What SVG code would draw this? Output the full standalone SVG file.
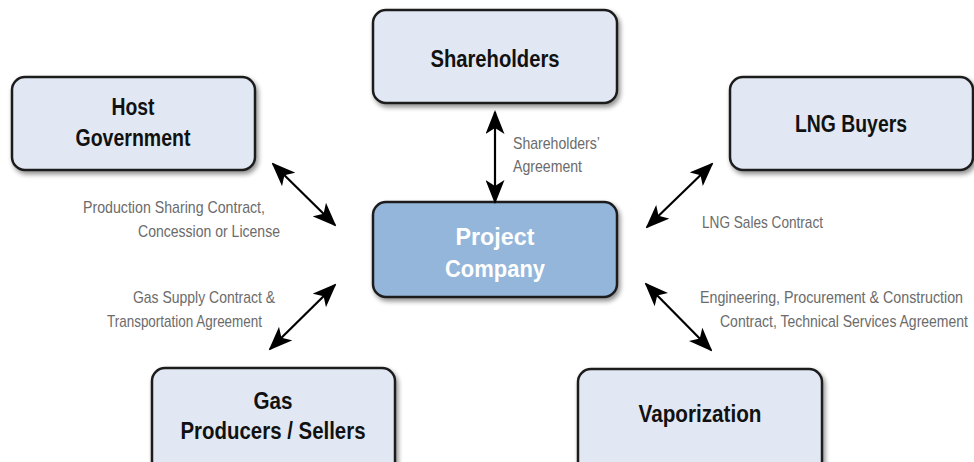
<svg xmlns="http://www.w3.org/2000/svg" width="974" height="462" viewBox="0 0 974 462">
<defs>
<style>
.box{fill:#e1e8f3;stroke:#1e1e1e;stroke-width:2.5}
.pc{fill:#94b6da;stroke:#1e1e1e;stroke-width:2.5}
.nl{font-family:"Liberation Sans",Arial,sans-serif;font-weight:bold;font-size:23px;fill:#111;text-anchor:middle}
.pl{font-family:"Liberation Sans",Arial,sans-serif;font-weight:bold;font-size:23px;fill:#fff;text-anchor:middle}
.lb{font-family:"Liberation Sans",Arial,sans-serif;font-size:17px;fill:#6b6b6b}
.ar{stroke:#000;stroke-width:2.2;fill:none;marker-start:url(#ah);marker-end:url(#ah)}
</style>
<filter id="sh" x="-10%" y="-10%" width="125%" height="130%">
<feGaussianBlur in="SourceAlpha" stdDeviation="2.5"/>
<feOffset dx="2" dy="3" result="b"/>
<feComponentTransfer><feFuncA type="linear" slope="0.45"/></feComponentTransfer>
<feMerge><feMergeNode/><feMergeNode in="SourceGraphic"/></feMerge>
</filter>
<marker id="ah" viewBox="0 0 24 19" refX="22" refY="9.5" markerWidth="24" markerHeight="19" markerUnits="userSpaceOnUse" orient="auto-start-reverse">
<path d="M0,0 L24,9.5 L0,19 L6,9.5 Z" fill="#000"/>
</marker>
</defs>
<rect width="974" height="462" fill="#fff"/>
<g id="host-government"><rect class="box" x="12" y="77" width="243" height="93" rx="13" filter="url(#sh)"/><text class="nl" x="133" y="115" textLength="43" lengthAdjust="spacingAndGlyphs">Host</text><text class="nl" x="133" y="146" textLength="115" lengthAdjust="spacingAndGlyphs">Government</text></g>
<g id="shareholders"><rect class="box" x="373" y="10" width="244" height="93" rx="13" filter="url(#sh)"/><text class="nl" x="495" y="67" textLength="129" lengthAdjust="spacingAndGlyphs">Shareholders</text></g>
<g id="lng-buyers"><rect class="box" x="730" y="77" width="243" height="93" rx="13" filter="url(#sh)"/><text class="nl" x="851" y="132" textLength="112" lengthAdjust="spacingAndGlyphs">LNG Buyers</text></g>
<g id="project-company"><rect class="pc" x="373" y="202" width="244" height="95" rx="13" filter="url(#sh)"/><text class="pl" x="495" y="245" textLength="79" lengthAdjust="spacingAndGlyphs">Project</text><text class="pl" x="495" y="277" textLength="100" lengthAdjust="spacingAndGlyphs">Company</text></g>
<g id="gas-producers"><rect class="box" x="152" y="368" width="243" height="110" rx="13" filter="url(#sh)"/><text class="nl" x="273" y="409" textLength="39" lengthAdjust="spacingAndGlyphs">Gas</text><text class="nl" x="273" y="439" textLength="185" lengthAdjust="spacingAndGlyphs">Producers / Sellers</text></g>
<g id="vaporization"><rect class="box" x="578" y="369" width="244" height="110" rx="13" filter="url(#sh)"/><text class="nl" x="700" y="422" textLength="123" lengthAdjust="spacingAndGlyphs">Vaporization</text></g>
<g id="connectors">
<line class="ar" x1="495" y1="112" x2="495" y2="202"/>
<line class="ar" x1="273" y1="164" x2="335" y2="225"/>
<line class="ar" x1="712" y1="164" x2="647" y2="227"/>
<line class="ar" x1="335" y1="285" x2="270" y2="349"/>
<line class="ar" x1="646" y1="284" x2="711" y2="350"/>
</g>
<g id="labels">
<text class="lb" x="513" y="149" textLength="87" lengthAdjust="spacingAndGlyphs">Shareholders’</text>
<text class="lb" x="513" y="172" textLength="69" lengthAdjust="spacingAndGlyphs">Agreement</text>
<text class="lb" x="83" y="213" textLength="182" lengthAdjust="spacingAndGlyphs">Production Sharing Contract,</text>
<text class="lb" x="138" y="237" textLength="142" lengthAdjust="spacingAndGlyphs">Concession or License</text>
<text class="lb" x="702" y="228" textLength="121" lengthAdjust="spacingAndGlyphs">LNG Sales Contract</text>
<text class="lb" x="133" y="303" textLength="142" lengthAdjust="spacingAndGlyphs">Gas Supply Contract &amp;</text>
<text class="lb" x="107" y="327" textLength="155" lengthAdjust="spacingAndGlyphs">Transportation Agreement</text>
<text class="lb" transform="translate(700,303) scale(0.8,1)" x="0" y="0" textLength="328.75" lengthAdjust="spacingAndGlyphs">Engineering, Procurement &amp; Construction</text>
<text class="lb" transform="translate(720,327) scale(0.8,1)" x="0" y="0" textLength="310" lengthAdjust="spacingAndGlyphs">Contract, Technical Services Agreement</text>
</g>
</svg>
